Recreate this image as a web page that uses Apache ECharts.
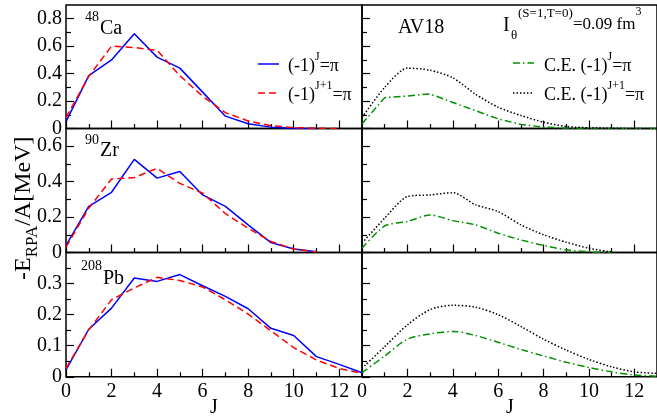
<!DOCTYPE html>
<html><head><meta charset="utf-8">
<script src="https://cdn.jsdelivr.net/npm/echarts@6/dist/echarts.min.js"></script>
<style>html,body{margin:0;padding:0;background:#fff}#c{width:657px;height:419px}</style>
</head><body><div id="c"></div>
<script>
// ---- data ----
const J = [0,1,2,3,4,5,6,7,8,9,10,11,12,13];
// RPA, (-1)^J = pi  and (-1)^(J+1) = pi
const caJ   = [0.05, 0.385, 0.50, 0.69, 0.52, 0.44, 0.265, 0.09, 0.035, 0.01, 0.002, 0];
const caJ1  = [0.08, 0.38, 0.60, 0.59, 0.57, 0.385, 0.235, 0.115, 0.055, 0.02, 0.007, 0.002, 0];
const zrJ   = [0.04, 0.26, 0.34, 0.526, 0.42, 0.457, 0.325, 0.26, 0.156, 0.056, 0.02, 0.004];
const zrJ1  = [0.03, 0.25, 0.415, 0.423, 0.475, 0.39, 0.335, 0.22, 0.137, 0.062, 0.02, 0.003];
const pbJ   = [0.022, 0.153, 0.221, 0.318, 0.307, 0.329, 0.293, 0.259, 0.219, 0.156, 0.133, 0.065, 0.04, 0.013];
const pbJ1  = [0.027, 0.151, 0.248, 0.286, 0.32, 0.31, 0.289, 0.248, 0.202, 0.148, 0.094, 0.054, 0.027, 0.011];
// C.E., (-1)^J = pi and (-1)^(J+1) = pi
const caCEJ  = [0.034, 0.225, 0.237, 0.252, 0.19, 0.13, 0.07, 0.03, 0.01, 0.003, 0.001, 0, 0, 0];
const caCEJ1 = [0.08, 0.30, 0.44, 0.425, 0.37, 0.25, 0.155, 0.095, 0.046, 0.015, 0.005, 0.002, 0, 0];
const zrCEJ  = [0.024, 0.15, 0.175, 0.212, 0.18, 0.156, 0.109, 0.071, 0.04, 0.015, 0.004, 0];
const zrCEJ1 = [0.053, 0.194, 0.316, 0.325, 0.338, 0.27, 0.231, 0.156, 0.1, 0.058, 0.024, 0.002];
const pbCEJ  = [0.013, 0.067, 0.121, 0.138, 0.146, 0.133, 0.111, 0.088, 0.067, 0.047, 0.030, 0.016, 0.006, 0.002];
const pbCEJ1 = [0.027, 0.097, 0.167, 0.216, 0.23, 0.224, 0.2, 0.162, 0.121, 0.086, 0.056, 0.032, 0.016, 0.011];

const xMajor = [0,2,4,6,8,10,12];
const xMinor = [1,3,5,7,9,11];
const yMajor = [[0,0.2,0.4,0.6,0.8],[0,0.2,0.4,0.6],[0,0.1,0.2,0.3]];
const yMinor = [[0.1,0.3,0.5,0.7],[0.1,0.3,0.5],[0.05,0.15,0.25,0.35]];
const yMax = [0.9, 0.7, 0.4];
const nuclei = [['48','Ca'],['90','Zr'],['208','Pb']];

// ---- layout ----
const FF = 'Liberation Serif';
const colLeft = [66, 362], colW = 296;
const rowTop = [5, 128.5, 252.5], rowH = [123.5, 124, 124.3];
const C_BLUE = '#0000ff', C_RED = '#ff0000', C_GREEN = '#009000', C_BLACK = '#000000';
const DASH = [7, 4], DASHDOT = [7, 3, 1.5, 3], DOT = [1.5, 2];

let done = false;
function render() {
  if (done) return; done = true;
  const grids = [], xAxes = [], yAxes = [], series = [];
  const pairs = v => v.map((y, i) => [J[i], y]);
  const labelStyle = {fontFamily: FF, fontSize: 20, color: '#000', fontWeight: 'normal'};
  for (let r = 0; r < 3; r++) {
    for (let c = 0; c < 2; c++) {
      const g = grids.length;
      grids.push({left: colLeft[c], top: rowTop[r], width: colW, height: rowH[r],
        show: true, borderColor: '#000', borderWidth: 1.5, backgroundColor: 'transparent'});
      const base = {type: 'value', gridIndex: g, min: 0, max: 13, position: 'bottom',
        axisLine: {show: false}, splitLine: {show: false}};
      xAxes.push(Object.assign({}, base, {
        axisTick: {show: true, inside: true, length: 8, customValues: xMajor, lineStyle: {color: '#000', width: 1.2}},
        axisLabel: Object.assign({show: r === 2, customValues: xMajor, margin: 5}, labelStyle)
      }));
      xAxes.push(Object.assign({}, base, {
        axisTick: {show: true, inside: true, length: 4.5, customValues: xMinor, lineStyle: {color: '#000', width: 1.2}},
        axisLabel: {show: false}
      }));
      const ybase = {type: 'value', gridIndex: g, min: 0, max: yMax[r], position: 'left',
        axisLine: {show: false}, splitLine: {show: false}};
      yAxes.push(Object.assign({}, ybase, {
        axisTick: {show: true, inside: true, length: 8, customValues: yMajor[r], lineStyle: {color: '#000', width: 1.2}},
        axisLabel: Object.assign({show: c === 0, customValues: yMajor[r], margin: 4}, labelStyle)
      }));
      yAxes.push(Object.assign({}, ybase, {
        axisTick: {show: true, inside: true, length: 5, customValues: yMinor[r], lineStyle: {color: '#000', width: 1.2}},
        axisLabel: {show: false}
      }));
    }
  }
  function line(g, data, color, type, smooth) {
    series.push({type: 'line', xAxisIndex: 2 * g, yAxisIndex: 2 * g, data: pairs(data),
      symbol: 'none', animation: false, silent: true, smooth: smooth || false,
      lineStyle: {color: color, width: 1.5, type: type, cap: 'butt'}});
  }
  line(0, caJ, C_BLUE, 'solid');  line(0, caJ1, C_RED, DASH);
  line(1, caCEJ, C_GREEN, DASHDOT); line(1, caCEJ1, C_BLACK, DOT, 0.25);
  line(2, zrJ, C_BLUE, 'solid');  line(2, zrJ1, C_RED, DASH);
  line(3, zrCEJ, C_GREEN, DASHDOT, 0.25); line(3, zrCEJ1, C_BLACK, DOT, 0.25);
  line(4, pbJ, C_BLUE, 'solid');  line(4, pbJ1, C_RED, DASH);
  line(5, pbCEJ, C_GREEN, DASHDOT, 0.3); line(5, pbCEJ1, C_BLACK, DOT, 0.3);

  const mctx = document.createElement('canvas').getContext('2d');
  const tw = (t, s) => { mctx.font = s + 'px "' + FF + '"'; return mctx.measureText(t).width; };
  function txt(x, baseline, t, s, align) {
    return {type: 'text', x: x, y: baseline - 0.34 * s, silent: true,
      style: {text: t, font: s + 'px ' + FF, fill: '#000', textAlign: align || 'left',
        textVerticalAlign: 'middle', verticalAlign: 'middle'}};
  }
  function chain(x, baseline, parts) {
    const out = [];
    let cx = x;
    for (const p of parts) { out.push(txt(cx, baseline + (p[2] || 0), p[0], p[1])); cx += tw(p[0], p[1]); }
    return out;
  }
  const graphic = [];
  const nucPos = [[99, 22, 36], [99, 145, 158], [102, 271, 286]];
  nuclei.forEach((n, i) => {
    const p = nucPos[i];
    graphic.push(txt(p[0], p[1], n[0], 14, 'right'));
    graphic.push(txt(p[0] + 1, p[2], n[1], 20, 'left'));
  });
  graphic.push(txt(398, 35, 'AV18', 20));
  graphic.push(txt(503, 33, 'I', 20));
  graphic.push(txt(511, 40, 'θ', 13));
  graphic.push(txt(518, 18, '(S=1,T=0)', 13));
  graphic.push(...chain(573, 30, [['=0.09 fm', 17], ['3', 12, -14]]));
  function sample(x1, x2, y, color, dash) {
    return {type: 'line', silent: true, shape: {x1: x1, y1: y, x2: x2, y2: y},
      style: {stroke: color, lineWidth: 1.5, lineDash: dash || null}};
  }
  graphic.push(sample(258, 279, 64, C_BLUE));
  graphic.push(...chain(288, 72, [['(-1)', 18], ['J', 12, -11], ['=π', 18]]));
  graphic.push(sample(258, 279, 93, C_RED, DASH));
  graphic.push(...chain(288, 101, [['(-1)', 18], ['J+1', 12, -11], ['=π', 18]]));
  graphic.push(sample(513, 534, 63, C_GREEN, DASHDOT));
  graphic.push(...chain(544, 72, [['C.E. (-1)', 18], ['J', 12, -11], ['=π', 18]]));
  graphic.push(sample(513, 534, 93, C_BLACK, DOT));
  graphic.push(...chain(544, 101, [['C.E. (-1)', 18], ['J+1', 12, -11], ['=π', 18]]));
  graphic.push(txt(214, 415, 'J', 20, 'center'));
  graphic.push(txt(510, 415, 'J', 20, 'center'));
  (function () {
    const parts = [['-E', 24, 0], ['RPA', 17, 6], ['/A[MeV]', 24, 0]];
    const children = [];
    let cx = 0;
    for (const p of parts) { children.push(txt(cx, p[2], p[0], p[1])); cx += tw(p[0], p[1]); }
    graphic.push({type: 'group', x: 32, y: 280, rotation: Math.PI / 2, children: children});
  })();

  const chart = echarts.init(document.getElementById('c'), null, {renderer: 'canvas'});
  chart.setOption({
    backgroundColor: '#fff',
    animation: false,
    textStyle: {fontFamily: FF},
    grid: grids, xAxis: xAxes, yAxis: yAxes, series: series,
    graphic: graphic
  });
}
try {
  Promise.all([
    document.fonts.load('20px "Liberation Serif"'),
    document.fonts.load('13px "Liberation Serif"')
  ]).then(render, render);
  setTimeout(render, 800);
} catch (e) { render(); }
</script></body></html>
